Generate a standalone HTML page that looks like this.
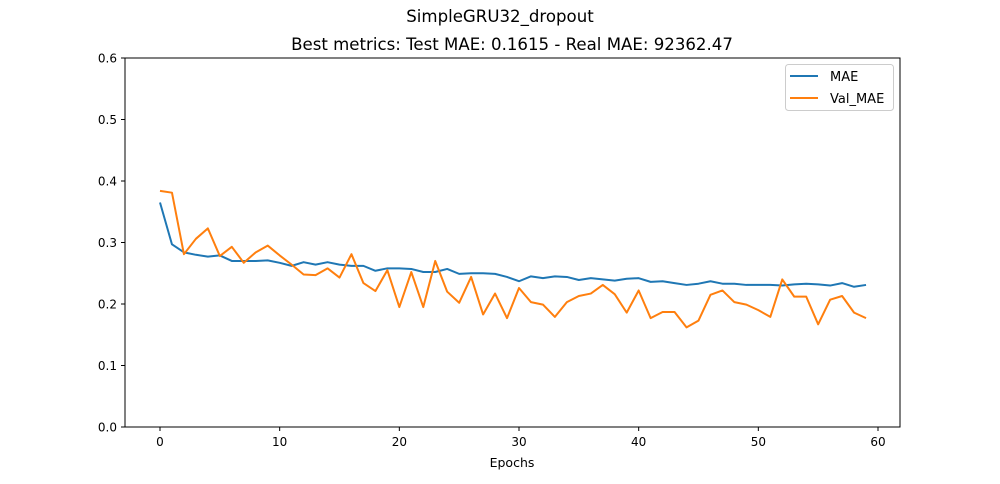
<!DOCTYPE html>
<html><head><meta charset="utf-8"><style>
body{margin:0;background:#fff;font-family:"DejaVu Sans","Liberation Sans",sans-serif;}
svg text{font-family:"DejaVu Sans","Liberation Sans",sans-serif;}
</style></head><body>
<svg id="chart" width="1000" height="480" viewBox="0 0 1000 480">
<text x="500" y="22" font-size="16.6" text-anchor="middle">SimpleGRU32_dropout</text>
<text x="512" y="50" font-size="16.6" text-anchor="middle">Best metrics: Test MAE: 0.1615 - Real MAE: 92362.47</text>
<g id="axes"></g>
<g id="lines"></g>
<rect x="125" y="58" width="775" height="369" fill="none" stroke="#000" stroke-width="1"/>
<text x="512" y="467" font-size="12.5" text-anchor="middle">Epochs</text>
<g>
<rect x="785.5" y="64.5" width="108" height="46" rx="3" fill="#fff" stroke="#ccc"/>
<line x1="790" y1="76" x2="818" y2="76" stroke="#1f77b4" stroke-width="2"/>
<text x="830" y="81" font-size="13">MAE</text>
<line x1="790" y1="98" x2="818" y2="98" stroke="#ff7f0e" stroke-width="2"/>
<text x="830" y="103" font-size="13">Val_MAE</text>
</g>
</svg>
<script>
const xTicks=[0,10,20,30,40,50,60];
const yTicks=[0.0,0.1,0.2,0.3,0.4,0.5,0.6];
const mae=[0.365,0.297,0.284,0.280,0.277,0.279,0.270,0.270,0.270,0.271,0.267,0.262,0.268,0.264,0.268,0.264,0.262,0.262,0.254,0.258,0.258,0.257,0.252,0.252,0.257,0.249,0.250,0.250,0.249,0.244,0.237,0.245,0.242,0.245,0.244,0.239,0.242,0.240,0.238,0.241,0.242,0.236,0.237,0.234,0.231,0.233,0.237,0.233,0.233,0.231,0.231,0.231,0.230,0.232,0.233,0.232,0.230,0.234,0.228,0.231];
const valMae=[0.384,0.381,0.281,0.306,0.323,0.278,0.293,0.267,0.284,0.295,0.279,0.264,0.248,0.247,0.258,0.243,0.281,0.234,0.221,0.255,0.195,0.252,0.195,0.270,0.220,0.202,0.244,0.183,0.217,0.177,0.226,0.203,0.199,0.179,0.203,0.213,0.217,0.231,0.216,0.186,0.222,0.177,0.187,0.187,0.162,0.173,0.215,0.222,0.203,0.199,0.190,0.179,0.240,0.212,0.212,0.167,0.207,0.213,0.186,0.177];
const NS="http://www.w3.org/2000/svg";
const xS=v=>160+v*(878-160)/60;
const yS=v=>427-v*(369/0.6);
const axes=document.getElementById('axes');
function mk(tag,attrs,parent){const e=document.createElementNS(NS,tag);for(const k in attrs)e.setAttribute(k,attrs[k]);parent.appendChild(e);return e;}
xTicks.forEach(t=>{
 const l=mk('line',{x1:xS(t),x2:xS(t),y1:427,y2:431,stroke:'#000'},axes);
 
 
 const tx=mk('text',{x:xS(t),y:446,'font-size':12,'text-anchor':'middle'},axes);tx.textContent=t;
 
 
});
yTicks.forEach(t=>{
 const l=mk('line',{x1:121,x2:125,y1:yS(t),y2:yS(t),stroke:'#000'},axes);
 
 
 const tx=mk('text',{x:117,y:yS(t)+4.5,'font-size':12,'text-anchor':'end'},axes);tx.textContent=t.toFixed(1);
 
 
});
const lines=document.getElementById('lines');
function series(arr,color,name){
 const p=mk('polyline',{points:arr.map((v,i)=>xS(i)+','+yS(v)).join(' '),fill:'none',stroke:color,'stroke-width':2,'stroke-linejoin':'round'},lines);
 
 
}
series(mae,'#1f77b4','mae-line');
series(valMae,'#ff7f0e','val-mae-line');
</script>
</body></html>
